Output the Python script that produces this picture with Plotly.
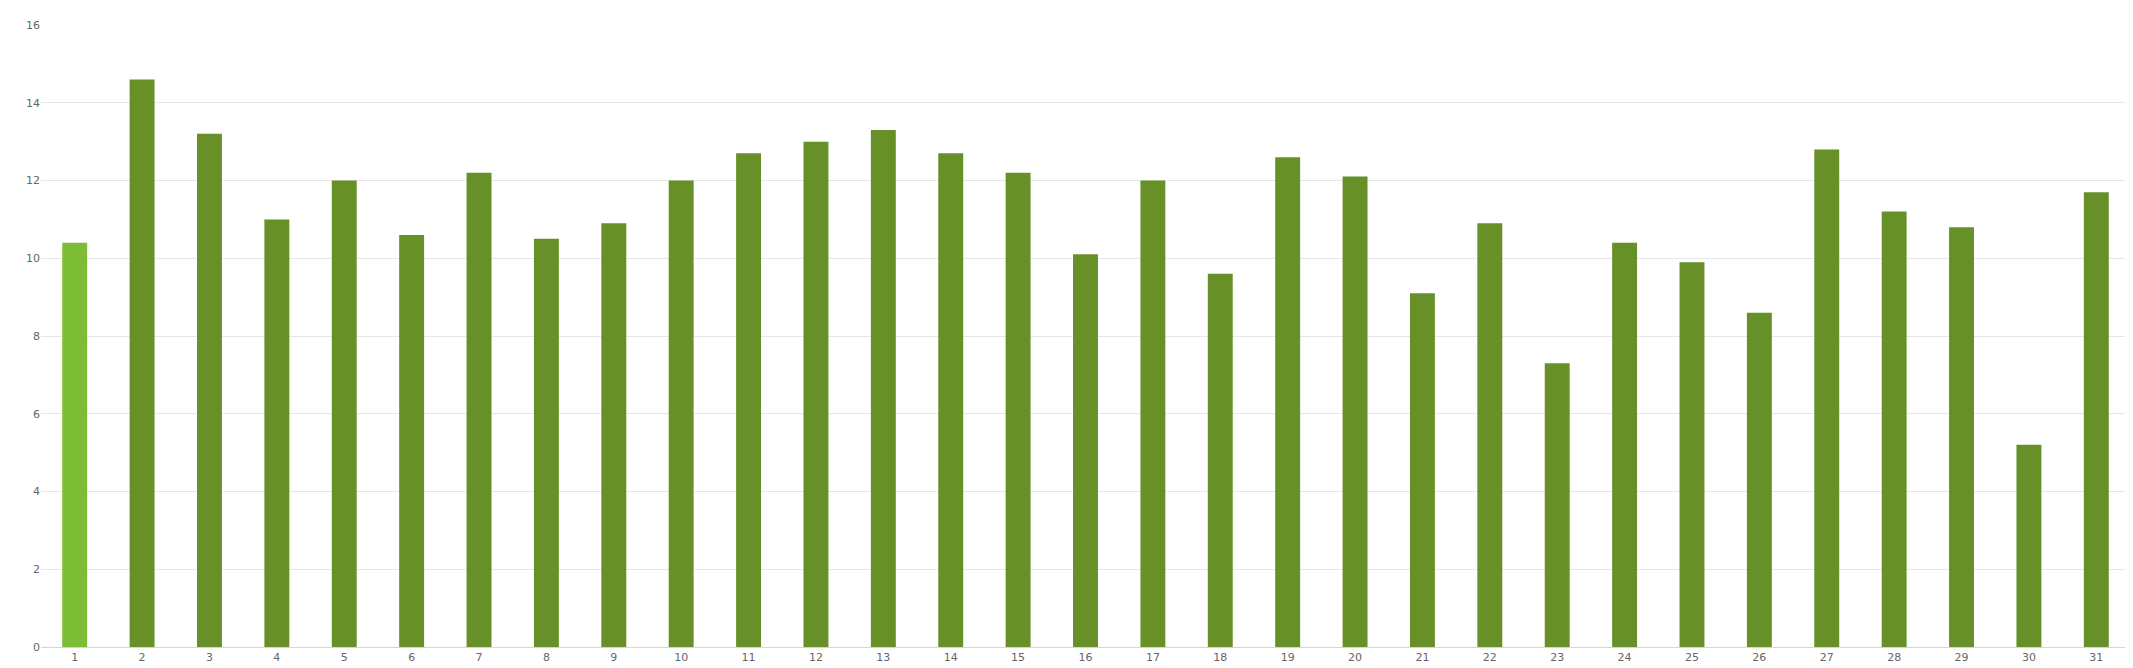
import plotly.graph_objects as go

days = [str(i) for i in range(1, 32)]
values = [10.4, 14.6, 13.2, 11.0, 12.0, 10.6, 12.2, 10.5, 10.9, 12.0, 12.7, 13.0, 13.3, 12.7, 12.2,
          10.1, 12.0, 9.6, 12.6, 12.1, 9.1, 10.9, 7.3, 10.4, 9.9, 8.6, 12.8, 11.2, 10.8, 5.2, 11.7]
colors = ["#7cbd35"] + ["#679128"] * 30

fig = go.Figure(go.Bar(x=days, y=values, marker_color=colors, marker_line_width=0, width=0.37))
fig.update_layout(
    width=2133, height=668, margin=dict(l=33, r=11, t=11, b=29),
    paper_bgcolor="white", plot_bgcolor="white", showlegend=False,
    font=dict(family="DejaVu Sans", size=11, color="#666666"),
    bargap=0.63,
)
fig.update_xaxes(type="category", showgrid=False, showline=True, linecolor="#ccd6eb", ticks="", ticklen=0)
fig.update_yaxes(range=[0, 16], dtick=2, showgrid=True, gridcolor="#e6e6e6", zeroline=False, ticks="")
fig.write_html("out.html")
